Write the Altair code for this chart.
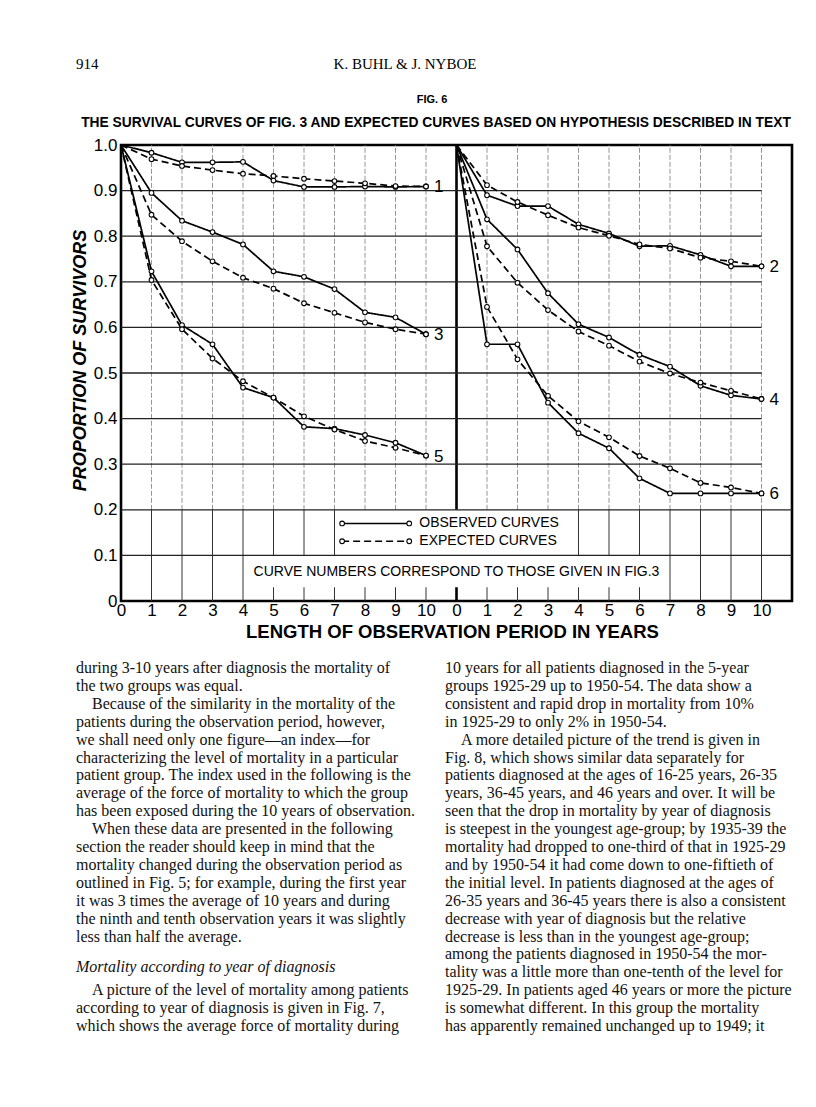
import altair as alt
import pandas as pd

# ---------------- data ----------------
years = list(range(11))

obs_1 = [1.0, 0.983, 0.962, 0.962, 0.963, 0.922, 0.908, 0.908, 0.909, 0.908, 0.909]
exp_1 = [1.0, 0.969, 0.954, 0.945, 0.937, 0.932, 0.926, 0.921, 0.916, 0.910, 0.909]
obs_3 = [1.0, 0.895, 0.834, 0.809, 0.782, 0.723, 0.711, 0.684, 0.633, 0.622, 0.585]
exp_3 = [1.0, 0.847, 0.789, 0.745, 0.709, 0.685, 0.653, 0.632, 0.611, 0.596, 0.585]
obs_5 = [1.0, 0.723, 0.605, 0.563, 0.468, 0.446, 0.382, 0.378, 0.364, 0.347, 0.319]
exp_5 = [1.0, 0.704, 0.596, 0.532, 0.482, 0.446, 0.405, 0.376, 0.351, 0.336, 0.319]
obs_2 = [1.0, 0.890, 0.866, 0.866, 0.826, 0.806, 0.778, 0.779, 0.759, 0.734, 0.734]
exp_2 = [1.0, 0.912, 0.875, 0.846, 0.819, 0.801, 0.782, 0.773, 0.753, 0.745, 0.734]
obs_4 = [1.0, 0.837, 0.771, 0.675, 0.607, 0.578, 0.540, 0.514, 0.472, 0.451, 0.443]
exp_4 = [1.0, 0.778, 0.698, 0.638, 0.591, 0.560, 0.525, 0.499, 0.479, 0.461, 0.443]
obs_6 = [1.0, 0.563, 0.563, 0.435, 0.368, 0.335, 0.269, 0.236, 0.236, 0.236, 0.236]
exp_6 = [1.0, 0.645, 0.530, 0.450, 0.394, 0.359, 0.318, 0.291, 0.259, 0.249, 0.236]

curves = [1, 3, 5, 2, 4, 6]
curve_panel = {1: "left", 3: "left", 5: "left", 2: "right", 4: "right", 6: "right"}
observed = {1: obs_1, 2: obs_2, 3: obs_3, 4: obs_4, 5: obs_5, 6: obs_6}
expected = {1: exp_1, 2: exp_2, 3: exp_3, 4: exp_4, 5: exp_5, 6: exp_6}

y_ticks = [0.0, 0.1, 0.2, 0.3, 0.4, 0.5, 0.6, 0.7, 0.8, 0.9, 1.0]
kinds = ["OBSERVED CURVES", "EXPECTED CURVES"]

header_page = "914"
header_authors = "K. BUHL & J. NYBOE"
fig_label = "FIG. 6"
fig_title = "THE SURVIVAL CURVES OF FIG. 3 AND EXPECTED CURVES BASED ON HYPOTHESIS DESCRIBED IN TEXT"
x_title = "LENGTH OF OBSERVATION PERIOD IN YEARS"
y_title = "PROPORTION OF SURVIVORS"
note_text = "CURVE NUMBERS CORRESPOND TO THOSE GIVEN IN FIG.3"

IND = "\u200b\u2003"   # paragraph indent (zero-width char keeps the em space from being trimmed)
left_lines = [
    "during 3-10 years after diagnosis the mortality of",
    "the two groups was equal.",
    IND + "Because of the similarity in the mortality of the",
    "patients during the observation period, however,",
    "we shall need only one figure\u2014an index\u2014for",
    "characterizing the level of mortality in a particular",
    "patient group. The index used in the following is the",
    "average of the force of mortality to which the group",
    "has been exposed during the 10 years of observation.",
    IND + "When these data are presented in the following",
    "section the reader should keep in mind that the",
    "mortality changed during the observation period as",
    "outlined in Fig. 5; for example, during the first year",
    "it was 3 times the average of 10 years and during",
    "the ninth and tenth observation years it was slightly",
    "less than half the average.",
    "",
    "",
    IND + "A picture of the level of mortality among patients",
    "according to year of diagnosis is given in Fig. 7,",
    "which shows the average force of mortality during",
]
section_heading = "Mortality according to year of diagnosis"
right_lines = [
    "10 years for all patients diagnosed in the 5-year",
    "groups 1925-29 up to 1950-54. The data show a",
    "consistent and rapid drop in mortality from 10%",
    "in 1925-29 to only 2% in 1950-54.",
    IND + "A more detailed picture of the trend is given in",
    "Fig. 8, which shows similar data separately for",
    "patients diagnosed at the ages of 16-25 years, 26-35",
    "years, 36-45 years, and 46 years and over.  It will be",
    "seen that the drop in mortality by year of diagnosis",
    "is steepest in the youngest age-group; by 1935-39 the",
    "mortality had dropped to one-third of that in 1925-29",
    "and by 1950-54 it had come down to one-fiftieth of",
    "the initial level. In patients diagnosed at the ages of",
    "26-35 years and 36-45 years there is also a consistent",
    "decrease with year of diagnosis but the relative",
    "decrease is less than in the youngest age-group;",
    "among the patients diagnosed in 1950-54 the mor-",
    "tality was a little more than one-tenth of the level for",
    "1925-29. In patients aged 46 years or more the picture",
    "is somewhat different. In this group the mortality",
    "has apparently remained unchanged up to 1949; it",
]

# ---------------- layout constants ----------------
PANEL_OFFSET = {"left": 0, "right": 11}   # right panel's year 0 sits after the left panel
W, H = 671, 456
SANS = "Liberation Sans"
SERIF = "Liberation Serif"

# ---------------- tables ----------------
rows = []
for c in curves:
    off = PANEL_OFFSET[curve_panel[c]]
    for kind, vals in ((kinds[0], observed[c]), (kinds[1], expected[c])):
        for yr, v in zip(years, vals):
            rows.append({"x": yr + off, "v": v, "curve": c, "kind": kind,
                         "series": f"{c}-{kind}", "year": yr})
df = pd.DataFrame(rows)

grid_x = [i for i in range(1, 11)] + [i + 11 for i in range(1, 11)]
vg_up = pd.DataFrame({"x": grid_x, "v": 0.2, "v2": 1.0})
vg_low = pd.DataFrame({"x": grid_x, "v": 0.0, "v2": 0.2})
divider = pd.DataFrame({"x": [11], "v": [0.0], "v2": [1.0]})
hg = pd.DataFrame({"v": [t for t in y_ticks if 0 < t < 1]})
hg["x"] = 0
hg["x2"] = [22 if t < 0.25 else 21 for t in hg["v"]]
boxes = pd.DataFrame({"x": [7.06, 4.06], "x2": [14.94, 17.94],
                      "v": [0.1, 0.03], "v2": [0.2, 0.1]})
end_labels = pd.DataFrame({
    "x": [10 + PANEL_OFFSET[curve_panel[c]] for c in curves],
    "v": [observed[c][-1] for c in curves],
    "t": [str(c) for c in curves]})
legend_lines = pd.DataFrame({"x": [7.25, 7.25], "x2": [9.45, 9.45],
                             "v": [0.170, 0.131], "kind": kinds})
legend_pts = pd.DataFrame({"x": [7.25, 9.45, 7.25, 9.45],
                           "v": [0.170, 0.170, 0.131, 0.131]})
legend_txt = pd.DataFrame({"x": [9.78, 9.78], "v": [0.170, 0.131], "t": kinds})
note = pd.DataFrame({"x": [11], "v": [0.063], "t": [note_text]})

xscale = alt.Scale(domain=[0, 22], nice=False, zero=False)
yscale = alt.Scale(domain=[0, 1], nice=False, zero=False)
xaxis = alt.Axis(values=list(range(0, 22)),
                 labelExpr="'' + (datum.value > 10.5 ? datum.value - 11 : datum.value)",
                 title=x_title, domain=False, ticks=False, grid=False,
                 labelFont=SANS, labelFontSize=17, labelColor="black", labelPadding=1,
                 labelOverlap=False, labelFlush=False,
                 titleFont=SANS, titleFontSize=18.5, titleFontWeight="bold", titleColor="black",
                 titleX=331, titleY=30, titleBaseline="middle", titleAlign="center")
yaxis = alt.Axis(values=y_ticks,
                 labelExpr="datum.value == 0 ? '0' : format(datum.value, '.1f')",
                 title=y_title, domain=False, ticks=False, grid=False,
                 labelFont=SANS, labelFontSize=17, labelColor="black", labelPadding=4,
                 labelOverlap=False, labelFlush=False,
                 titleFont=SANS, titleFontSize=18, titleFontWeight="bold",
                 titleFontStyle="italic", titleColor="black",
                 titleX=-41, titleY=215, titleAngle=270, titleBaseline="middle",
                 titleAlign="center")


def X(f="x"):
    return alt.X(f"{f}:Q", scale=xscale, axis=xaxis)


def Y(f="v"):
    return alt.Y(f"{f}:Q", scale=yscale, axis=yaxis)


dash = alt.StrokeDash("kind:N", scale=alt.Scale(domain=kinds, range=[[1, 0], [7, 4]]),
                      legend=None)

l_vup = alt.Chart(vg_up).mark_rule(color="#8a8a8a", strokeWidth=0.9, strokeDash=[5, 2]).encode(
    x=X(), y=Y(), y2="v2:Q")
l_vlow = alt.Chart(vg_low).mark_rule(color="#333333", strokeWidth=1).encode(
    x=X(), y=Y(), y2="v2:Q")
l_div = alt.Chart(divider).mark_rule(color="black", strokeWidth=2.6).encode(
    x=X(), y=Y(), y2="v2:Q")
l_box = alt.Chart(boxes).mark_rect(color="white").encode(x=X(), x2="x2:Q", y=Y(), y2="v2:Q")
l_hg = alt.Chart(hg).mark_rule(color="#222222", strokeWidth=1.3).encode(
    x=X(), x2="x2:Q", y=Y())
l_lines = alt.Chart(df).mark_line(color="black", strokeWidth=1.7).encode(
    x=X(), y=Y(), detail="series:N", strokeDash=dash, order="x:Q")
l_pts = alt.Chart(df).transform_filter("datum.year > 0").mark_point(
    shape="circle", filled=True, fill="white", stroke="black", strokeWidth=1.1,
    size=22, opacity=1).encode(x=X(), y=Y())
l_end = alt.Chart(end_labels).mark_text(align="left", baseline="middle", dx=8, dy=1,
                                        font=SANS, fontSize=17, color="black").encode(
    x=X(), y=Y(), text="t:N")
l_leg = alt.Chart(legend_lines).mark_rule(color="black", strokeWidth=1.7).encode(
    x=X(), x2="x2:Q", y=Y(), strokeDash=dash)
l_legpts = alt.Chart(legend_pts).mark_point(
    shape="circle", filled=True, fill="white", stroke="black", strokeWidth=1.1,
    size=22, opacity=1).encode(x=X(), y=Y())
l_legtxt = alt.Chart(legend_txt).mark_text(align="left", baseline="middle", font=SANS,
                                           fontSize=14, color="black").encode(
    x=X(), y=Y(), text="t:N")
l_note = alt.Chart(note).mark_text(align="center", baseline="middle", font=SANS,
                                   fontSize=14, color="black").encode(
    x=X(), y=Y(), text="t:N")

graph = alt.layer(l_vup, l_vlow, l_div, l_box, l_hg, l_lines, l_pts, l_end,
                  l_leg, l_legpts, l_legtxt, l_note)

# ---------------- page text ----------------
body_scale = alt.Scale(domain=[0, 20], range=[523, 881])
left_df = pd.DataFrame({"row": list(range(len(left_lines))), "line": left_lines})
right_df = pd.DataFrame({"row": list(range(len(right_lines))), "line": right_lines})
head_df = pd.DataFrame({"row": [17], "line": [section_heading]})


def body(d, xpx, style="normal", dy=0):
    return alt.Chart(d).mark_text(align="left", baseline="middle", font=SERIF, fontSize=16,
                                  fontStyle=style, color="#111111", dy=dy).encode(
        x=alt.value(xpx), y=alt.Y("row:Q", scale=body_scale, axis=None), text="line:N")


def label(t, xpx, ypx, font, size, weight="normal", align="left"):
    return alt.Chart(pd.DataFrame({"t": [t]})).mark_text(
        align=align, baseline="middle", font=font, fontSize=size, fontWeight=weight,
        color="black").encode(x=alt.value(xpx), y=alt.value(ypx), text="t:N")


page = alt.layer(
    graph,
    body(left_df, -45),
    body(head_df, -45, style="italic", dy=-5),
    body(right_df, 324),
    label(header_page, -45, -81, SERIF, 15),
    label(header_authors, 284, -81, SERIF, 15, align="center"),
    label(fig_label, 311, -45, SANS, 11, weight="bold", align="center"),
    label(fig_title, 315, -22, SANS, 13.8, weight="bold", align="center"),
).resolve_scale(y="independent").properties(
    width=W, height=H,
    autosize=alt.AutoSizeParams(type="none"),
    padding={"left": 113, "top": 137, "right": 16, "bottom": 498},
    background="white",
).configure_view(stroke="black", strokeWidth=2.6)

page.save("out.html", embed_options={"renderer": "svg", "actions": False})
